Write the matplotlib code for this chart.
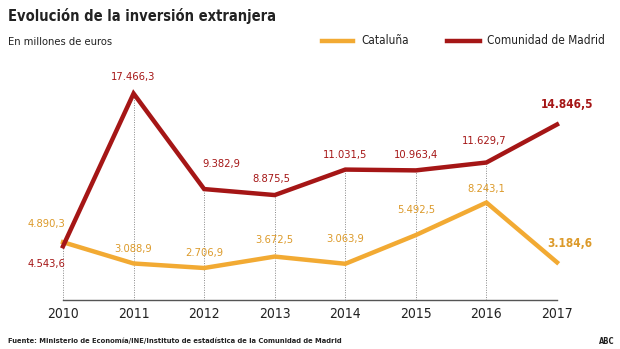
import matplotlib.pyplot as plt

plt.rcParams['font.family'] = ['DejaVu Sans']
plt.rcParams['font.stretch'] = 'condensed'

years = [2010, 2011, 2012, 2013, 2014, 2015, 2016, 2017]
madrid = [4543.6, 17466.3, 9382.9, 8875.5, 11031.5, 10963.4, 11629.7, 14846.5]
cataluna = [4890.3, 3088.9, 2706.9, 3672.5, 3063.9, 5492.5, 8243.1, 3184.6]

# desplazamiento de las etiquetas (px: dx, dy hacia arriba)
off_mad = [(-17, -18), (0, 17), (17, 25), (-3, 16), (0, 15), (0, 15), (-2, 22), (10, 20)]
off_cat = [(-17, 18), (0, 14), (0, 15), (0, 17), (0, 25), (0, 25), (0, 14), (13, 19)]

ROJO = '#a51616'
NARANJA = '#f2aa33'
TXT_NAR = '#dc9a2a'
PX = 0.72  # puntos por pixel a 100 dpi


def fmt(v):
    s = f"{v:,.1f}"
    return s.replace(',', 'X').replace('.', ',').replace('X', '.')


fig = plt.figure(figsize=(6.2, 3.49), dpi=100)
ax = fig.add_axes([63 / 620, 1 - 300 / 349, 494 / 620, 240 / 349])
ax.set_xlim(2010, 2017)
ax.set_ylim(0, 20300)
for s in ax.spines.values():
    s.set_visible(False)
ax.set_yticks([])
ax.set_xticks(years)
ax.tick_params(axis='x', length=0, pad=5, labelsize=10, colors='#222222')

# linea base y guias punteadas
ax.plot([years[0], years[-1]], [0, 0], color='#555555', lw=1.0, clip_on=False)
ax.vlines(years, 0, madrid, colors='#888888', linestyles=(0, (1, 1.5)), lw=0.7)

ax.plot(years, cataluna, color=NARANJA, lw=3.2, solid_joinstyle='miter', clip_on=False, zorder=3)
ax.plot(years, madrid, color=ROJO, lw=3.2, solid_joinstyle='miter', clip_on=False, zorder=4)

last = len(years) - 1
for i, x in enumerate(years):
    big = dict(fontsize=8.5, fontweight='bold') if i == last else dict(fontsize=8)
    ax.annotate(fmt(cataluna[i]), (x, cataluna[i]),
                xytext=(off_cat[i][0] * PX, off_cat[i][1] * PX), textcoords='offset points',
                ha='center', va='center', color=TXT_NAR, **big)
    ax.annotate(fmt(madrid[i]), (x, madrid[i]),
                xytext=(off_mad[i][0] * PX, off_mad[i][1] * PX), textcoords='offset points',
                ha='center', va='center', color=ROJO, zorder=5, **big)

fig.text(8 / 620, 1 - 16 / 349, 'Evolución de la inversión extranjera', fontsize=10.5,
         fontweight='bold', color='#222222', va='center', ha='left')
fig.text(8 / 620, 1 - 42 / 349, 'En millones de euros', fontsize=8, color='#222222',
         va='center', ha='left')

# leyenda
fig.add_artist(plt.Line2D([322 / 620, 353 / 620], [1 - 41 / 349] * 2, color=NARANJA, lw=3.2))
fig.text(361 / 620, 1 - 41 / 349, 'Cataluña', fontsize=8.5, color='#222222', va='center')
fig.add_artist(plt.Line2D([447 / 620, 480 / 620], [1 - 41 / 349] * 2, color=ROJO, lw=3.2))
fig.text(487 / 620, 1 - 41 / 349, 'Comunidad de Madrid', fontsize=8.5, color='#222222', va='center')

fig.text(8 / 620, 1 - 341 / 349,
         'Fuente: Ministerio de Economía/INE/Instituto de estadística de la Comunidad de Madrid',
         fontsize=5.4, fontweight='bold', color='#222222', va='center', ha='left')
fig.text(614 / 620, 1 - 341 / 349, 'ABC', fontsize=5.5, fontweight='bold', color='#222222',
         va='center', ha='right')

fig.savefig('out.png', dpi=100, facecolor='white')
